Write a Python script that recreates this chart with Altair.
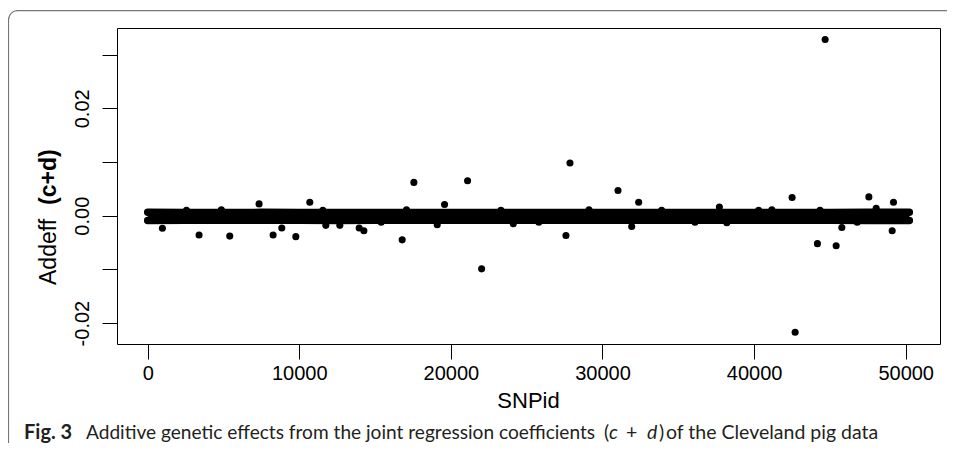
import altair as alt
import pandas as pd

# ---- data ----
# isolated SNPs standing out of the dense band (SNPid, additive effect c+d)
snp_id = [970, 3388, 5413, 7347, 8273, 8845, 9770, 10693, 11750, 12673,
          13950, 14260, 16787, 17070, 17558, 19098, 19582, 21100, 22026, 24115,
          27590, 27855, 29110, 31023, 31926, 32387, 37710, 38200, 41170, 42508,
          42706, 44178, 44350, 44686, 45413, 45787, 47570, 48053, 49109, 49195,
          2560, 4860, 11550, 15400, 23300, 25800, 33900, 36100, 40300, 46800]
addeff = [-0.00235, -0.0036, -0.0038, 0.0022, -0.0036, -0.0023, -0.0039, 0.0025, -0.0018, -0.0018,
          -0.0023, -0.0028, -0.0045, 0.0011, 0.0062, -0.0017, 0.0021, 0.0065, -0.0099, -0.0015,
          -0.0037, 0.0098, 0.0011, 0.0047, -0.0020, 0.0025, 0.0016, -0.0013, 0.0011, 0.0034,
          -0.0217, -0.0052, 0.0010, 0.0328, -0.0056, -0.0022, 0.0035, 0.0014, -0.0028, 0.0025,
          0.0010, 0.0011, 0.0010, -0.0012, 0.0010, -0.0012, 0.0010, -0.0012, 0.0010, -0.0012]

# envelope of the dense band of ~50 000 SNPs (upper / lower point centres)
band_snp = [0, 2500, 5000, 7500, 10000, 12500, 15000, 17500, 20000, 22500, 25000,
            27500, 30000, 32500, 35000, 37500, 40000, 42500, 45000, 47500, 50000, 50240]
band_hi = [0.00065, 0.0006, 0.0006, 0.00062, 0.0006, 0.0006, 0.00058, 0.0006, 0.0006, 0.00058, 0.0006,
           0.0006, 0.0006, 0.00058, 0.0006, 0.0006, 0.0006, 0.0006, 0.0006, 0.00065, 0.00065, 0.00065]
band_lo = [-0.0009, -0.00085, -0.00085, -0.00085, -0.00085, -0.0009, -0.00085, -0.00085, -0.00085, -0.00085, -0.00085,
           -0.00085, -0.00085, -0.00085, -0.00085, -0.00085, -0.00085, -0.00085, -0.00085, -0.0009, -0.0009, -0.0009]

x_ticks = [0, 10000, 20000, 30000, 40000, 50000]
y_ticks = [-0.02, -0.01, 0.0, 0.01, 0.02, 0.03]

pts = pd.DataFrame({"snp": snp_id, "val": addeff})
band = pd.DataFrame({"snp": band_snp, "hi": band_hi, "lo": band_lo})
one = pd.DataFrame({"k": [0]})

W, H = 823, 316
xs = alt.Scale(domain=[-2025, 52263], nice=False, zero=False)
ys = alt.Scale(domain=[-0.02389, 0.03495], nice=False, zero=False)

common_axis = dict(title=None, grid=False, domain=False, tickSize=15, tickColor="black",
                   tickWidth=1, labelFont="Liberation Sans", labelFontSize=20,
                   labelColor="black", labelFlush=False, labelOverlap=False)
x_axis = alt.Axis(values=x_ticks, format="d", labelPadding=4, **common_axis)
y_axis = alt.Axis(values=y_ticks, labelAngle=270, labelPadding=10,
                  labelExpr="round(datum.value*100) % 2 == 0 ? replace(format(datum.value, '.2f'), '\u2212', '-') : ''",
                  **common_axis)

X = lambda f: alt.X(f, type="quantitative", scale=xs, axis=x_axis)
Y = lambda f: alt.Y(f, type="quantitative", scale=ys, axis=y_axis)

frame = alt.Chart(one).mark_rect(fillOpacity=0, stroke="#777777", strokeWidth=1.2, cornerRadius=9).encode(
    x=alt.value(-108.5), x2=alt.value(900), y=alt.value(-17.3), y2=alt.value(600))

band_area = alt.Chart(band).mark_area(color="black").encode(x=X("snp"), y=Y("lo"), y2="hi")
band_top = alt.Chart(band).mark_line(color="black", strokeWidth=7.5, strokeCap="round").encode(x=X("snp"), y=Y("hi"))
band_bot = alt.Chart(band).mark_line(color="black", strokeWidth=7.5, strokeCap="round").encode(x=X("snp"), y=Y("lo"))
points = alt.Chart(pts).mark_circle(size=50, color="black", opacity=1).encode(x=X("snp"), y=Y("val"))

def txt(s, x, y, size, weight="normal", style="normal", font="Liberation Sans", angle=0,
        align="left", color="black"):
    return alt.Chart(one).mark_text(text=s, font=font, fontSize=size, fontWeight=weight,
                                    fontStyle=style, angle=angle, align=align,
                                    baseline="alphabetic", color=color).encode(
        x=alt.value(x), y=alt.value(y))

xtitle = txt("SNPid", 411.5, 380, 22, align="center")
ytitle1 = txt("Addeff", -61, 257, 23, angle=270)
ytitle2 = txt("(c+d)", -61, 177, 23, weight="bold", angle=270)

cap_font = "Lato"
cap_col = "#231f20"
cy = 410.5
cs = 19.5
cap = [
    txt("Fig. 3", -93, cy, 20, weight="bold", font=cap_font, color=cap_col),
    txt("Additive genetic effects from the joint regression coefficients", -31, cy, 19.1, font=cap_font, color=cap_col),
    txt("(", 487, cy, cs, font=cap_font, color=cap_col),
    txt("c", 492, cy, cs, style="italic", font=cap_font, color=cap_col),
    txt("+", 509, cy, cs, font=cap_font, color=cap_col),
    txt("d", 530, cy, cs, style="italic", font=cap_font, color=cap_col),
    txt(")", 542, cy, cs, font=cap_font, color=cap_col),
    txt("of the Cleveland pig data", 549, cy, cs, font=cap_font, color=cap_col),
]

chart = alt.layer(frame, band_area, band_top, band_bot, points, xtitle, ytitle1, ytitle2, *cap).properties(
    width=W, height=H, autosize="none",
    padding={"left": 109, "top": 20, "right": 7, "bottom": 99},
).configure_view(stroke="black", strokeWidth=1)

chart.save("out.html", embed_options={"renderer": "svg", "actions": False})
